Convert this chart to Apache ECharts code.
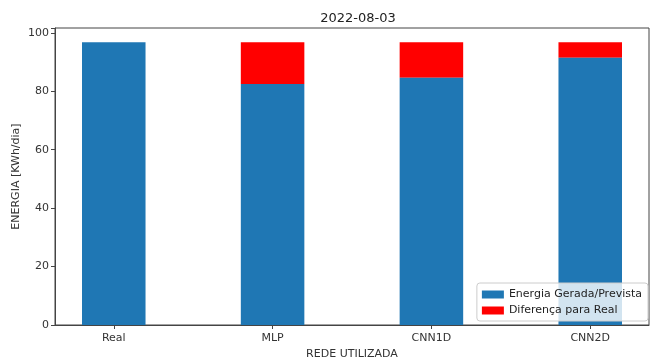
<!DOCTYPE html>
<html><head><meta charset="utf-8">
<script src="https://cdn.jsdelivr.net/npm/echarts@6/dist/echarts.min.js"></script>
<style>html,body{margin:0;padding:0;background:#fff}#c{width:653px;height:358px}</style>
</head><body><div id="c"></div>
<script>
const categories = ['Real', 'MLP', 'CNN1D', 'CNN2D'];
const realValue = 96.8;
const predicted = [96.8, 82.5, 84.6, 91.5];
const difference = predicted.map(v => +(realValue - v).toFixed(2));
const yTicks = [0, 20, 40, 60, 80, 100];
const barUnits = 0.4; // bar width in category units

const chart = echarts.init(document.getElementById('c'), null, {renderer: 'canvas'});
const font = 'DejaVu Sans';

function rectItem(params, api) {
  const x = api.value(0), base = api.value(1), h = api.value(2);
  const p0 = api.coord([x - barUnits / 2, base + h]);
  const p1 = api.coord([x + barUnits / 2, base]);
  return {type: 'rect', shape: {x: p0[0], y: p0[1], width: p1[0] - p0[0], height: p1[1] - p0[1]},
    style: {fill: api.visual('color')}};
}

chart.setOption({
  animation: false,
  title: {text: '2022-08-03', left: 353, top: 7, textAlign: 'center',
    textStyle: {fontFamily: font, fontSize: 13, fontWeight: 'normal', color: '#222'}},
  grid: {left: 55, right: 4, top: 28, bottom: 33, outerBoundsMode: 'none', containLabel: false,
    show: true, borderColor: '#444', borderWidth: 1, backgroundColor: 'transparent'},
  legend: {
    orient: 'vertical', right: 5, bottom: 37, icon: 'rect',
    itemWidth: 22, itemHeight: 8, itemGap: 5,
    backgroundColor: 'rgba(255,255,255,0.8)', borderColor: '#ccc', borderWidth: 1, borderRadius: 3,
    padding: [6, 6, 5, 5],
    textStyle: {fontFamily: font, fontSize: 11, color: '#222'},
    data: ['Energia Gerada/Prevista', 'Diferença para Real'],
    z: 10
  },
  xAxis: {
    type: 'value', min: -0.37, max: 3.37,
    splitLine: {show: false},
    axisLine: {show: true, onZero: false, lineStyle: {color: '#444'}},
    axisTick: {show: true, length: 4, customValues: [0, 1, 2, 3], lineStyle: {color: '#444'}},
    axisLabel: {customValues: [0, 1, 2, 3], formatter: v => categories[Math.round(v)],
      fontFamily: font, fontSize: 11, color: '#333', margin: 8},
    name: 'REDE UTILIZADA', nameLocation: 'middle', nameGap: 21,
    nameTextStyle: {fontFamily: font, fontSize: 11, color: '#333'}
  },
  yAxis: {
    type: 'value', min: 0, max: 101.64, interval: 20,
    splitLine: {show: false},
    axisLine: {show: true, onZero: false, lineStyle: {color: '#444'}},
    axisTick: {show: true, length: 4, lineStyle: {color: '#444'}},
    axisLabel: {fontFamily: font, fontSize: 11, color: '#333', margin: 6,
      formatter: v => yTicks.includes(v) ? String(v) : ''},
    name: 'ENERGIA [KWh/dia]', nameLocation: 'middle', nameGap: 33, nameMoveOverlap: false,
    nameTextStyle: {fontFamily: font, fontSize: 11, color: '#333'}
  },
  series: [
    {name: 'Energia Gerada/Prevista', type: 'custom', renderItem: rectItem, z: 3,
      itemStyle: {color: '#1f77b4'},
      encode: {x: 0, y: 2},
      data: predicted.map((v, i) => [i, 0, v])},
    {name: 'Diferença para Real', type: 'custom', renderItem: rectItem, z: 2,
      itemStyle: {color: '#ff0000'},
      encode: {x: 0, y: 2},
      data: difference.map((v, i) => [i, predicted[i], v])}
  ]
});
</script></body></html>
